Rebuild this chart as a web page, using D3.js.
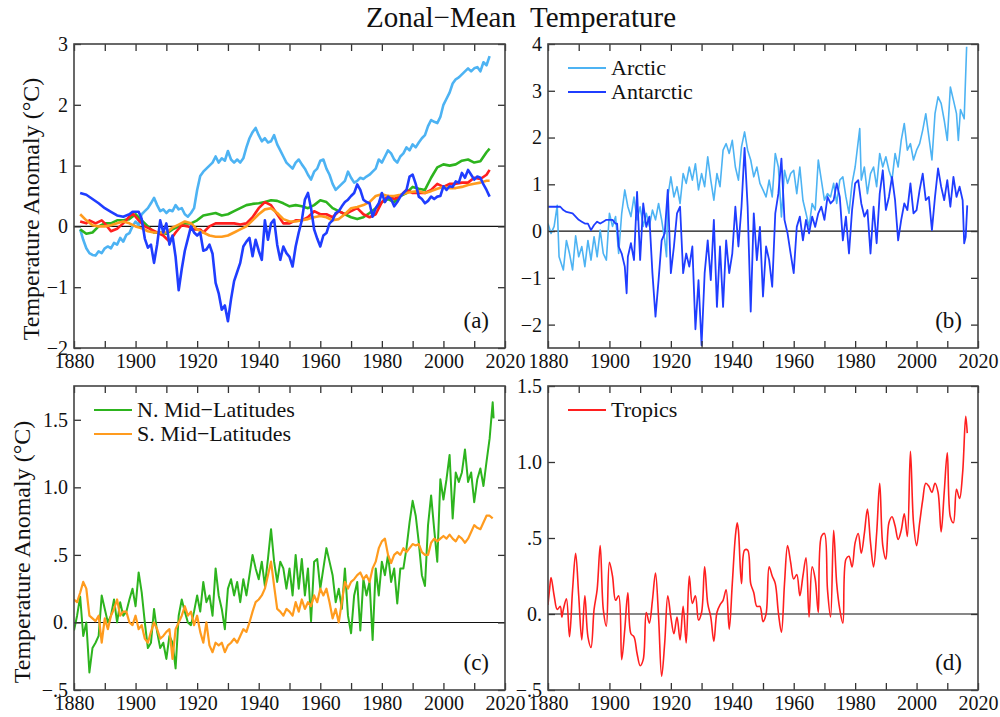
<!DOCTYPE html>
<html>
<head>
<meta charset="utf-8">
<script src="https://cdn.jsdelivr.net/npm/d3@7/dist/d3.min.js"></script>
<style>
  body { margin: 0; background: #fff; }
  svg text { font-family: "Liberation Serif", "Times New Roman", serif; fill: #111; }
</style>
</head>
<body>
<script>
"use strict";

// ---- data: [year, anomaly in degC] ----

// panel (a): smoothed zonal means
const aArctic = [[1882,-0.05],[1883,-0.22],[1884,-0.36],[1885,-0.44],[1886,-0.47],[1887,-0.48],[1888,-0.41],[1889,-0.44],[1890,-0.36],[1891,-0.33],[1892,-0.36],[1893,-0.27],[1894,-0.3],[1895,-0.19],[1896,-0.25],[1897,-0.14],[1898,-0.11],[1899,0.0],[1900,0.08],[1901,0.02],[1902,0.2],[1903,0.25],[1904,0.3],[1905,0.38],[1906,0.47],[1907,0.35],[1908,0.25],[1909,0.28],[1910,0.22],[1911,0.27],[1912,0.25],[1913,0.35],[1914,0.28],[1915,0.3],[1916,0.2],[1917,0.16],[1918,0.22],[1919,0.3],[1920,0.6],[1921,0.83],[1922,0.9],[1923,0.95],[1924,1.0],[1925,1.05],[1926,1.15],[1927,1.05],[1928,1.12],[1929,1.08],[1930,1.24],[1931,1.1],[1932,1.05],[1933,1.1],[1934,1.05],[1935,1.12],[1936,1.3],[1937,1.45],[1938,1.55],[1939,1.62],[1940,1.5],[1941,1.4],[1942,1.45],[1943,1.38],[1944,1.4],[1945,1.5],[1946,1.35],[1947,1.25],[1948,1.15],[1949,1.05],[1950,1.0],[1951,0.95],[1952,1.05],[1953,1.1],[1954,1.02],[1955,0.95],[1956,0.85],[1957,0.77],[1958,0.9],[1959,0.95],[1960,1.08],[1961,1.1],[1962,0.95],[1963,0.85],[1964,0.7],[1965,0.6],[1966,0.65],[1967,0.7],[1968,0.75],[1969,0.9],[1970,0.8],[1971,0.72],[1972,0.75],[1973,0.8],[1974,0.78],[1975,0.82],[1976,0.85],[1977,0.9],[1978,0.95],[1979,1.1],[1980,1.05],[1981,1.15],[1982,1.25],[1983,1.2],[1984,1.1],[1985,1.05],[1986,1.15],[1987,1.2],[1988,1.3],[1989,1.25],[1990,1.35],[1991,1.3],[1992,1.38],[1993,1.45],[1994,1.5],[1995,1.65],[1996,1.75],[1997,1.72],[1998,1.7],[1999,1.8],[2000,2.0],[2001,2.1],[2002,2.2],[2003,2.35],[2004,2.42],[2005,2.45],[2006,2.5],[2007,2.55],[2008,2.6],[2009,2.55],[2010,2.6],[2011,2.62],[2012,2.55],[2013,2.7],[2014,2.65],[2015,2.8]];
const aAntarctic = [[1882,0.55],[1884,0.52],[1886,0.45],[1888,0.38],[1890,0.3],[1892,0.24],[1894,0.18],[1896,0.16],[1898,0.2],[1899,0.24],[1901,0.24],[1902,0.12],[1903,-0.2],[1904,-0.35],[1905,-0.3],[1906,-0.6],[1907,-0.3],[1908,0.1],[1909,-0.1],[1910,0.05],[1911,-0.3],[1912,-0.15],[1913,-0.5],[1914,-1.05],[1915,-0.7],[1916,-0.4],[1917,-0.2],[1918,0.0],[1919,-0.1],[1920,-0.15],[1921,-0.1],[1922,-0.4],[1923,-0.38],[1924,-0.3],[1925,-0.45],[1926,-0.93],[1927,-1.1],[1928,-1.37],[1929,-1.3],[1930,-1.56],[1931,-1.2],[1932,-0.9],[1933,-0.75],[1934,-0.6],[1935,-0.33],[1936,-0.25],[1937,-0.19],[1938,-0.49],[1939,-0.22],[1940,-0.4],[1941,-0.55],[1942,0.1],[1943,-0.22],[1944,0.05],[1945,0.11],[1946,-0.3],[1947,-0.55],[1948,-0.33],[1949,-0.44],[1950,-0.5],[1951,-0.66],[1952,-0.33],[1953,-0.1],[1954,0.1],[1955,0.44],[1956,0.55],[1957,0.3],[1958,-0.05],[1959,-0.2],[1960,-0.33],[1961,-0.15],[1962,-0.11],[1963,0.05],[1964,0.1],[1965,0.22],[1966,0.25],[1967,0.33],[1968,0.4],[1969,0.44],[1970,0.5],[1971,0.55],[1972,0.69],[1973,0.6],[1974,0.44],[1975,0.4],[1976,0.38],[1977,0.16],[1978,0.3],[1979,0.38],[1980,0.55],[1981,0.4],[1982,0.49],[1983,0.45],[1984,0.33],[1985,0.4],[1986,0.49],[1987,0.55],[1988,0.6],[1989,0.82],[1990,0.85],[1991,0.7],[1992,0.49],[1993,0.45],[1994,0.38],[1995,0.42],[1996,0.49],[1997,0.45],[1998,0.49],[1999,0.5],[2000,0.66],[2001,0.6],[2002,0.66],[2003,0.65],[2004,0.74],[2005,0.72],[2006,0.88],[2007,0.8],[2008,0.93],[2009,0.85],[2010,0.77],[2011,0.82],[2012,0.8],[2013,0.69],[2014,0.6],[2015,0.49]];
const aNMid = [[1882,-0.05],[1884,-0.12],[1886,-0.1],[1888,0.0],[1890,0.05],[1892,0.05],[1894,0.1],[1896,0.1],[1898,0.12],[1900,0.2],[1902,0.1],[1904,0.0],[1906,-0.1],[1908,-0.1],[1910,-0.12],[1912,-0.05],[1914,0.0],[1916,0.05],[1918,0.05],[1920,0.1],[1922,0.18],[1924,0.2],[1926,0.22],[1928,0.18],[1930,0.2],[1932,0.25],[1934,0.3],[1936,0.35],[1938,0.37],[1940,0.38],[1942,0.4],[1944,0.43],[1946,0.42],[1948,0.38],[1950,0.33],[1952,0.35],[1954,0.33],[1956,0.3],[1958,0.35],[1960,0.43],[1962,0.4],[1964,0.3],[1966,0.25],[1968,0.2],[1970,0.15],[1972,0.12],[1974,0.15],[1976,0.22],[1978,0.3],[1980,0.4],[1982,0.45],[1984,0.4],[1986,0.5],[1988,0.55],[1990,0.65],[1992,0.62],[1994,0.6],[1996,0.8],[1998,0.97],[2000,1.02],[2002,1.0],[2004,1.02],[2006,1.08],[2008,1.1],[2010,1.05],[2012,1.07],[2014,1.22],[2015,1.28]];
const aTropics = [[1882,0.08],[1884,0.05],[1885,0.1],[1887,0.05],[1889,0.1],[1890,0.05],[1892,-0.08],[1894,-0.04],[1896,0.05],[1899,0.22],[1901,0.1],[1903,0.0],[1905,-0.05],[1907,-0.1],[1909,-0.15],[1911,-0.25],[1913,-0.1],[1915,0.02],[1917,0.0],[1919,-0.05],[1921,-0.05],[1922,-0.1],[1924,0.0],[1926,0.05],[1928,0.05],[1930,0.05],[1932,0.05],[1934,0.03],[1936,0.05],[1938,0.15],[1940,0.3],[1942,0.4],[1944,0.35],[1946,0.2],[1948,0.05],[1950,0.05],[1952,0.1],[1954,0.1],[1956,0.15],[1958,0.25],[1960,0.2],[1962,0.2],[1964,0.15],[1966,0.25],[1968,0.2],[1970,0.25],[1972,0.3],[1974,0.2],[1976,0.15],[1978,0.2],[1980,0.4],[1982,0.5],[1984,0.45],[1986,0.5],[1988,0.6],[1990,0.55],[1992,0.55],[1994,0.55],[1996,0.6],[1998,0.7],[2000,0.65],[2002,0.7],[2004,0.7],[2006,0.72],[2008,0.72],[2010,0.8],[2012,0.78],[2014,0.85],[2015,0.93]];
const aSMid = [[1882,0.2],[1884,0.1],[1886,0.02],[1888,0.0],[1890,0.0],[1892,0.02],[1894,0.05],[1896,0.08],[1898,0.05],[1900,0.0],[1902,-0.03],[1904,-0.08],[1906,-0.1],[1908,-0.1],[1910,-0.1],[1912,-0.02],[1914,0.03],[1916,0.08],[1918,0.05],[1920,-0.05],[1922,-0.1],[1924,-0.15],[1926,-0.17],[1928,-0.17],[1930,-0.15],[1932,-0.1],[1934,-0.05],[1936,0.0],[1938,0.1],[1940,0.2],[1942,0.28],[1944,0.3],[1946,0.22],[1948,0.12],[1950,0.08],[1952,0.08],[1954,0.1],[1956,0.12],[1958,0.15],[1960,0.17],[1962,0.15],[1964,0.1],[1966,0.12],[1968,0.2],[1970,0.3],[1972,0.32],[1974,0.35],[1976,0.4],[1978,0.5],[1980,0.53],[1982,0.5],[1984,0.5],[1986,0.52],[1988,0.55],[1990,0.57],[1992,0.58],[1994,0.55],[1996,0.58],[1998,0.62],[2000,0.65],[2002,0.63],[2004,0.63],[2006,0.65],[2008,0.68],[2010,0.7],[2012,0.72],[2014,0.75],[2015,0.75]];

// panel (b): polar caps
const bArctic = [[1880,0.16],[1881,-0.05],[1882,0.1],[1883,0.55],[1883.6,-0.55],[1885,-0.83],[1886,-0.2],[1887,-0.48],[1888,-0.83],[1889,-0.1],[1890,-0.55],[1891,-0.33],[1892,-0.76],[1893,-0.2],[1894,-0.62],[1895,-0.12],[1896,-0.55],[1897,0.02],[1898,-0.48],[1899,-0.62],[1900,0.38],[1901,0.1],[1902,0.31],[1903,-0.48],[1904,0.38],[1905,0.88],[1906,0.52],[1907,0.31],[1908,0.73],[1909,0.24],[1910,0.52],[1911,0.1],[1912,0.38],[1913,0.1],[1914,0.45],[1915,0.24],[1916,0.59],[1917,0.24],[1918,-0.2],[1918.6,-0.55],[1919,0.73],[1920,1.16],[1921,0.73],[1922,0.95],[1923,0.59],[1924,1.23],[1925,1.02],[1926,1.37],[1927,1.09],[1928,1.44],[1929,0.88],[1930,1.23],[1931,0.95],[1932,1.59],[1933,1.09],[1934,0.66],[1935,1.23],[1936,0.95],[1937,1.73],[1938,1.87],[1939,1.66],[1940,1.94],[1941,1.37],[1942,1.09],[1943,1.8],[1944,2.12],[1945,1.73],[1946,1.52],[1947,1.16],[1948,1.37],[1949,1.02],[1950,0.88],[1951,0.73],[1952,1.09],[1953,0.73],[1954,1.66],[1955,1.37],[1956,0.3],[1957,1.3],[1958,1.02],[1959,1.23],[1960,1.3],[1961,0.8],[1962,1.37],[1963,0.66],[1964,0.38],[1965,0.09],[1966,0.59],[1967,0.45],[1968,1.52],[1969,1.09],[1970,0.66],[1971,0.8],[1972,0.73],[1973,1.02],[1974,0.59],[1975,1.09],[1976,1.16],[1977,0.73],[1978,0.38],[1979,1.02],[1980,1.37],[1981.5,2.19],[1982,1.09],[1983,1.37],[1984,0.8],[1985,1.23],[1986,1.37],[1987,0.95],[1988,1.66],[1989,1.37],[1990,1.59],[1991,1.3],[1992,1.09],[1993,1.66],[1994,1.37],[1995,1.94],[1996,2.3],[1997,1.73],[1998,1.87],[1999,1.52],[2000,1.73],[2001,1.87],[2002,2.16],[2003,2.51],[2004,2.02],[2005,1.52],[2006,2.51],[2007,2.87],[2008,2.73],[2009,2.37],[2010,1.94],[2011,3.08],[2012,2.8],[2013,2.51],[2013.6,1.94],[2014.3,2.6],[2015.5,2.4],[2016.3,3.94]];
const bAntarctic = [[1880,0.52],[1882,0.52],[1884,0.52],[1885,0.45],[1886,0.41],[1888,0.38],[1890,0.24],[1891,0.2],[1892,0.16],[1893,0.16],[1894,0.02],[1895,0.13],[1896,0.2],[1897,0.16],[1898,0.2],[1899,0.24],[1900,0.24],[1901,0.24],[1902,0.16],[1902.5,0.16],[1903,-0.33],[1904,-0.48],[1905,-0.76],[1905.6,-1.33],[1906,-0.55],[1907,-0.26],[1908,-0.62],[1909,0.84],[1910,-0.62],[1911,0.59],[1912,0.09],[1913,0.31],[1914,-0.9],[1915,-1.83],[1916,-1.05],[1917,-0.2],[1918,-0.05],[1919,0.88],[1920,-0.9],[1921,-0.33],[1922,0.38],[1923,0.52],[1924,-0.9],[1925,-0.48],[1926,-0.76],[1927,-0.33],[1928,-2.1],[1929,-1.05],[1930,-2.44],[1931,-0.9],[1932,-0.2],[1933,-1.05],[1934,0.24],[1935,-1.62],[1936,-0.33],[1937,-1.62],[1938,-0.2],[1939,-0.9],[1940,-0.48],[1941,0.52],[1942,-0.33],[1943,0.52],[1944,1.78],[1945,0.52],[1946,-1.72],[1947,0.38],[1948,-0.62],[1949,0.09],[1950,-1.4],[1951,-0.33],[1952,-0.62],[1953,-1.19],[1954,0.38],[1955,0.8],[1956,1.55],[1957,0.24],[1958,-0.05],[1959,-0.48],[1960,-0.9],[1961,0.09],[1962,0.31],[1963,-0.2],[1964,0.24],[1965,-0.05],[1966,0.31],[1967,0.09],[1968,0.38],[1969,0.52],[1970,0.24],[1971,0.73],[1972,0.59],[1973,0.66],[1974,1.02],[1975,0.73],[1976,-0.2],[1977,0.31],[1978,-0.48],[1979,0.45],[1980,1.02],[1981,1.09],[1982,0.59],[1983,0.31],[1984,0.45],[1985,-0.48],[1986,0.52],[1987,-0.26],[1988,0.8],[1989,1.3],[1990,0.45],[1991,0.73],[1992,1.16],[1993,0.66],[1994,-0.2],[1995,0.24],[1996,0.59],[1997,0.45],[1998,1.02],[1999,0.38],[2000,0.45],[2001,0.88],[2002,1.23],[2003,0.66],[2004,0.73],[2005,0.02],[2006,0.73],[2007,1.34],[2008,0.95],[2009,0.66],[2010,1.09],[2011,0.52],[2012,1.16],[2013,0.73],[2014,0.95],[2015,0.66],[2015.5,-0.26],[2016,-0.12],[2016.5,0.55]];

// panel (c): mid-latitudes
const cNMid = [[1880,-0.06],[1881,0.05],[1882,0.19],[1883,-0.1],[1884,0],[1885,-0.37],[1886,-0.19],[1887,-0.15],[1888,-0.1],[1889,0.2],[1890,0.1],[1891,0],[1892,0.05],[1893,0.17],[1894,0],[1895,0.15],[1896,0.05],[1897,0.08],[1898,0.17],[1899,0.25],[1900,0.12],[1901,0.37],[1902,0.22],[1903,0],[1904,-0.19],[1905,-0.15],[1906,0.1],[1907,-0.07],[1908,-0.19],[1909,-0.15],[1910,-0.27],[1911,-0.1],[1912,-0.15],[1913,-0.34],[1914,0.05],[1915,0.17],[1916,0.08],[1917,0],[1918,-0.02],[1919,0.08],[1920,0.2],[1921,0.08],[1922,0.3],[1923,0.15],[1924,0.2],[1925,0.05],[1926,0.4],[1927,0.2],[1928,0.1],[1929,-0.05],[1930,0.25],[1931,0.32],[1932,0.2],[1933,0.3],[1934,0.15],[1935,0.32],[1936,0.2],[1937,0.35],[1938,0.5],[1939,0.4],[1940,0.32],[1941,0.45],[1942,0.27],[1943,0.47],[1944,0.69],[1945,0.45],[1946,0.3],[1947,0.45],[1948,0.4],[1949,0.25],[1950,0.4],[1951,0.2],[1952,0.5],[1953,0.25],[1954,0.47],[1955,0.2],[1956,0.4],[1957,0.01],[1958,0.45],[1959,0.47],[1960,0.25],[1961,0.4],[1962,0.55],[1963,0.45],[1964,0.35],[1965,0.15],[1966,0.25],[1967,0.1],[1968,0.4],[1969,0.05],[1970,-0.08],[1971,0.2],[1972,0.3],[1973,-0.06],[1974,0.32],[1975,0.2],[1976,0.3],[1977,-0.13],[1978,0.4],[1979,0.2],[1980,0.45],[1981,0.35],[1982,0.5],[1983,0.3],[1984,0.4],[1985,0.14],[1986,0.4],[1987,0.4],[1988,0.55],[1989,0.74],[1990,0.9],[1991,0.79],[1992,0.59],[1993,0.35],[1994,0.27],[1995,0.72],[1996,0.94],[1997,0.69],[1998,0.45],[1999,1.06],[2000,0.91],[2001,1.06],[2002,1.24],[2003,0.77],[2004,1.11],[2005,1.04],[2006,1.11],[2007,1.28],[2008,1.04],[2009,1.11],[2010,0.89],[2011,1.06],[2012,1.14],[2013,1.01],[2014,1.19],[2015,1.36],[2016,1.63],[2016.3,1.51]];
const cSMid = [[1880,0.17],[1881,0.15],[1882,0.22],[1883,0.3],[1884,0.25],[1885,0.05],[1886,0.03],[1887,0.01],[1888,0.05],[1889,-0.15],[1890,0.03],[1891,-0.05],[1892,0.05],[1893,0.1],[1894,0.17],[1895,0.05],[1896,0.08],[1897,0.08],[1898,0],[1899,-0.02],[1900,0.05],[1901,-0.05],[1902,-0.02],[1903,-0.12],[1904,-0.15],[1905,-0.07],[1906,0],[1907,-0.05],[1908,-0.12],[1909,-0.1],[1910,-0.07],[1911,-0.05],[1912,-0.27],[1913,-0.05],[1914,0],[1915,0.05],[1916,0.12],[1917,0.05],[1918,0.08],[1919,-0.02],[1920,0.05],[1921,-0.07],[1922,-0.15],[1923,0],[1924,-0.17],[1925,-0.22],[1926,-0.15],[1927,-0.17],[1928,-0.15],[1929,-0.22],[1930,-0.17],[1931,-0.15],[1932,-0.12],[1933,-0.15],[1934,-0.1],[1935,-0.05],[1936,-0.07],[1937,0],[1938,0.08],[1939,0.15],[1940,0.17],[1941,0.2],[1942,0.25],[1943,0.35],[1944,0.45],[1945,0.27],[1946,0.1],[1947,0.08],[1948,0.05],[1949,0.1],[1950,0.08],[1951,0.05],[1952,0.15],[1953,0.08],[1954,0.17],[1955,0.1],[1956,0.15],[1957,0.12],[1958,0.2],[1959,0.15],[1960,0.25],[1961,0.2],[1962,0.25],[1963,0.15],[1964,0.03],[1965,0.1],[1966,0],[1967,0.15],[1968,0.3],[1969,0.25],[1970,0.3],[1971,0.32],[1972,0.35],[1973,0.37],[1974,0.32],[1975,0.35],[1976,0.3],[1977,0.4],[1978,0.45],[1979,0.55],[1980,0.6],[1981,0.62],[1982,0.5],[1983,0.44],[1984,0.5],[1985,0.52],[1986,0.5],[1987,0.55],[1988,0.52],[1989,0.55],[1990,0.58],[1991,0.57],[1992,0.58],[1993,0.52],[1994,0.5],[1995,0.5],[1996,0.59],[1997,0.62],[1998,0.6],[1999,0.62],[2000,0.64],[2001,0.62],[2002,0.65],[2003,0.62],[2004,0.6],[2005,0.64],[2006,0.62],[2007,0.59],[2008,0.62],[2009,0.67],[2010,0.72],[2011,0.7],[2012,0.69],[2013,0.74],[2014,0.79],[2015,0.79],[2016,0.77]];

// panel (d): tropics
const dTropics = [[1880,0.06],[1880.5,0.16],[1881,0.24],[1882,0.12],[1883,0.03],[1884,0.05],[1884.5,-0.02],[1885,0.03],[1886,0.1],[1887,-0.15],[1888,0.16],[1889,0.4],[1890,0.12],[1891,-0.17],[1892,0.12],[1893,-0.15],[1894,-0.22],[1895,0.03],[1896,0.16],[1897,0.45],[1898,0.03],[1899,-0.08],[1900,0.34],[1901,0.25],[1902,0.09],[1903,0.12],[1904,-0.3],[1905,-0.1],[1906,0.14],[1907,-0.13],[1908,-0.15],[1909,-0.26],[1910,-0.34],[1911,-0.3],[1912,0.01],[1913,-0.06],[1914,0.09],[1915,0.27],[1916,-0.02],[1917,-0.41],[1918,-0.19],[1919,0.12],[1920,-0.02],[1921,-0.13],[1922,-0.02],[1923,-0.17],[1924,0.05],[1925,-0.19],[1926,0.25],[1927,0.07],[1928,0.12],[1929,-0.04],[1930,0.01],[1931,0.31],[1932,0.07],[1933,-0.02],[1934,-0.18],[1935,0.01],[1936,0.06],[1937,0.09],[1938,0.16],[1939,-0.1],[1940,0.2],[1941,0.51],[1941.6,0.6],[1942,0.55],[1943,0.2],[1944,0.42],[1945,0.42],[1946,0.2],[1947,0.14],[1948,0.05],[1949,0.05],[1950,-0.05],[1951,0.0],[1952,0.31],[1953,0.25],[1954,0.2],[1955,0.01],[1956,-0.12],[1957,0.2],[1958,0.45],[1959,0.34],[1960,0.23],[1961,0.26],[1962,0.12],[1963,0.25],[1964,0.37],[1965,-0.02],[1966,0.31],[1967,0.23],[1968,0.01],[1969,0.51],[1970,0.53],[1971,0.16],[1972,-0.02],[1973,0.55],[1974,0.2],[1975,0.03],[1976,-0.06],[1977,0.36],[1978,0.38],[1979,0.31],[1980,0.47],[1981,0.53],[1982,0.4],[1983,0.53],[1984,0.69],[1985,0.47],[1986,0.31],[1987,0.53],[1988,0.86],[1989,0.45],[1990,0.36],[1991,0.6],[1992,0.64],[1993,0.58],[1994,0.49],[1995,0.55],[1996,0.66],[1997,0.51],[1998,1.07],[1999,0.6],[2000,0.45],[2001,0.6],[2002,0.75],[2003,0.86],[2004,0.84],[2005,0.8],[2006,0.86],[2007,0.8],[2008,0.54],[2009,0.8],[2010,1.06],[2011,0.64],[2012,0.6],[2013,0.82],[2014,0.76],[2015,0.93],[2016,1.3],[2016.5,1.19]];

// ticks and labels
const xTickValues = [1880, 1890, 1900, 1910, 1920, 1930, 1940, 1950, 1960, 1970, 1980, 1990, 2000, 2010, 2020];
const aYTicks = [-2, -1, 0, 1, 2, 3];
const aYLabels = ["\u22122", "\u22121", "0", "1", "2", "3"];
const bYTicks = [-2, -1, 0, 1, 2, 3, 4];
const bYLabels = ["\u22122", "\u22121", "0", "1", "2", "3", "4"];
const cdYTicks = [-0.5, 0, 0.5, 1, 1.5];
const cdYLabels = ["\u2212.5", "0.", ".5", "1.0", "1.5"];

const colors = {
    arctic: "#4db3f3",
    antarctic: "#1f3dff",
    nmid: "#2db41e",
    smid: "#ff9b1e",
    tropics: "#ff1f1f"
};

const svg = d3.select("body").append("svg")
    .attr("width", 1000)
    .attr("height", 717);

svg.append("text")
    .attr("x", 521)
    .attr("y", 27)
    .attr("text-anchor", "middle")
    .style("font-size", "29px")
    .style("white-space", "pre")
    .text("Zonal\u2212Mean  Temperature");

// plot boxes in pixels
const panels = [
    {
        id: "a", left: 74, right: 505, top: 44, bottom: 348,
        yDomain: [-2, 3], yTicks: aYTicks, yLabels: aYLabels,
        series: [
            { data: aArctic, color: colors.arctic, width: 2.6 },
            { data: aNMid, color: colors.nmid, width: 2.6 },
            { data: aTropics, color: colors.tropics, width: 2.6 },
            { data: aSMid, color: colors.smid, width: 2.6 },
            { data: aAntarctic, color: colors.antarctic, width: 2.6 }
        ],
        legend: [],
        yTitle: { x: 39, y: 209 }
    },
    {
        id: "b", left: 548, right: 978, top: 44, bottom: 348,
        yDomain: [-2.5, 4], yTicks: bYTicks, yLabels: bYLabels,
        series: [
            { data: bArctic, color: colors.arctic, width: 1.6 },
            { data: bAntarctic, color: colors.antarctic, width: 1.8 }
        ],
        legend: [{ name: "Arctic", color: colors.arctic }, { name: "Antarctic", color: colors.antarctic }]
    },
    {
        id: "c", left: 74, right: 505, top: 386, bottom: 690,
        yDomain: [-0.5, 1.75], yTicks: cdYTicks, yLabels: cdYLabels,
        series: [
            { data: cNMid, color: colors.nmid, width: 2 },
            { data: cSMid, color: colors.smid, width: 2.2 }
        ],
        legend: [{ name: "N. Mid\u2212Latitudes", color: colors.nmid }, { name: "S. Mid\u2212Latitudes", color: colors.smid }],
        yTitle: { x: 30, y: 552 }
    },
    {
        id: "d", left: 548, right: 978, top: 386, bottom: 690,
        yDomain: [-0.5, 1.5], yTicks: cdYTicks, yLabels: cdYLabels,
        series: [
            { data: dTropics, color: colors.tropics, width: 1.6, smooth: true }
        ],
        legend: [{ name: "Tropics", color: colors.tropics }]
    }
];

panels.forEach(drawPanel);

function drawPanel(p) {
    const w = p.right - p.left;
    const h = p.bottom - p.top;
    const g = svg.append("g").attr("transform", `translate(${p.left},${p.top})`);

    const x = d3.scaleLinear().domain([1880, 2020]).range([0, w]);
    const y = d3.scaleLinear().domain(p.yDomain).range([h, 0]);

    g.append("clipPath").attr("id", "clip-" + p.id)
        .append("rect").attr("width", w).attr("height", h);

    // zero line
    g.append("line")
        .attr("x1", 0).attr("x2", w)
        .attr("y1", y(0)).attr("y2", y(0))
        .attr("stroke", "#111").attr("stroke-width", 1.1);

    const plot = g.append("g").attr("clip-path", `url(#clip-${p.id})`);
    p.series.forEach(s => {
        const line = d3.line()
            .x(d => x(d[0]))
            .y(d => y(d[1]))
            .curve(s.smooth ? d3.curveCatmullRom.alpha(0.5) : d3.curveLinear);
        plot.append("path")
            .datum(s.data)
            .attr("fill", "none")
            .attr("stroke", s.color)
            .attr("stroke-width", s.width)
            .attr("stroke-linejoin", "round")
            .attr("d", line);
    });

    // axes: ticks point inward on all four sides
    const fmtX = d => (d % 20 === 0 ? d : "");
    g.append("g").attr("transform", `translate(0,${h})`)
        .call(d3.axisBottom(x).tickValues(xTickValues).tickSize(-7).tickPadding(6).tickFormat(fmtX));
    g.append("g")
        .call(d3.axisTop(x).tickValues(xTickValues).tickSize(-7).tickFormat(""));
    g.append("g")
        .call(d3.axisLeft(y).tickValues(p.yTicks).tickSize(-7).tickPadding(6)
            .tickFormat((d, i) => p.yLabels[i]));
    g.append("g").attr("transform", `translate(${w},0)`)
        .call(d3.axisRight(y).tickValues(p.yTicks).tickSize(-7).tickFormat(""));

    g.selectAll(".domain").remove();
    g.selectAll(".tick line").attr("stroke", "#333").attr("stroke-width", 1.3);
    g.selectAll(".tick text")
        .style("font-family", "'Liberation Serif', 'Times New Roman', serif")
        .style("font-size", "20px")
        .attr("fill", "#111");

    // frame
    g.append("rect")
        .attr("width", w).attr("height", h)
        .attr("fill", "none")
        .attr("stroke", "#444")
        .attr("stroke-width", 1.6);

    // panel tag
    g.append("text")
        .attr("x", w - 16).attr("y", h - 20)
        .attr("text-anchor", "end")
        .style("font-size", "23px")
        .text("(" + p.id + ")");

    // legend
    p.legend.forEach((item, i) => {
        const ly = 24 + i * 24;
        g.append("line")
            .attr("x1", 20).attr("x2", 58)
            .attr("y1", ly).attr("y2", ly)
            .attr("stroke", item.color).attr("stroke-width", 2);
        g.append("text")
            .attr("x", 63).attr("y", ly)
            .attr("dy", "0.33em")
            .style("font-size", "22px")
            .text(item.name);
    });

    if (p.yTitle) {
        svg.append("text")
            .attr("transform", `translate(${p.yTitle.x},${p.yTitle.y}) rotate(-90)`)
            .attr("text-anchor", "middle")
            .style("font-size", "24px")
            .text("Temperature Anomaly (\u00B0C)");
    }
}
</script>
</body>
</html>
